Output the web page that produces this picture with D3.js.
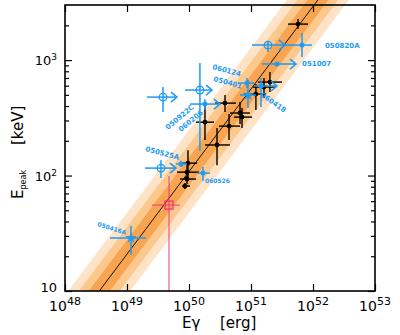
<!DOCTYPE html>
<html><head><meta charset="utf-8">
<script src="https://cdn.jsdelivr.net/npm/d3@7"></script>
<style>body{margin:0;background:#fff}svg{display:block}</style>
</head><body>
<svg id="c" width="400" height="335"></svg>
<script>
// ---------- data ----------
// black (pre-Swift) GRBs: [Egamma, Epeak, Elo, Ehi, Eplo, Ephi]
const blackPts = [
  [5.73e51, 2050, 3.95e51, 8.3e51, 1855, 2265],
  [2.02e51, 645, 1.30e51, 3.16e51, 528, 787],
  [1.62e51, 584, 1.08e51, 2.53e51, 469, 699],
  [1.20e51, 508, 7.7e50, 1.75e51, 369, 620],
  [3.81e50, 424, 2.63e50, 5.73e50, 355, 498],
  [1.81e50, 290, 1.30e50, 2.53e50, 203, 416],
  [4.42e50, 268, 3.05e50, 6.65e50, 203, 341],
  [6.65e50, 348, 4.58e50, 9.6e50, 279, 433],
  [7.16e50, 321, 5.32e50, 1.04e51, 258, 384],
  [2.83e50, 184, 1.81e50, 4.58e50, 123, 258],
  [9.63e49, 128, 7.16e49, 1.35e50, 95.1, 166],
  [9.29e49, 107, 6.4e49, 1.45e50, 91.4, 123],
  [9.29e49, 93.3, 7.16e49, 1.30e50, 84.4, 101],
  [8.61e49, 81.1, 7.7e49, 1.04e50, 76.4, 86.1]
];
// Swift GRBs (blue): [Egamma, Epeak, Elo, Ehi, Eplo, Ephi, marker, lowerLimitInE]
const bluePts = [
  [1.16e49, 28.8, 5.32e48, 2.03e49, 20.5, 36.5, "star", 0],
  [7.43e49, 126, 6.17e49, 9.29e49, 118.6, 134, "dot", 0],
  [3.53e49, 116, 1.95e49, 6.17e49, 95.1, 136, "open", 1],
  [1.68e50, 105, 1.35e50, 2.18e50, 89.6, 118.6, "dot", 0],
  [3.81e49, 478, 2.10e49, 6.4e49, 355, 584, "open", 1],
  [1.50e50, 550, 8.61e49, 2.35e50, 163, 942, "open", 1],
  [1.81e50, 416, 1.04e50, 3.16e50, 369, 459, "dot", 1],
  [8.62e50, 632, 6.17e50, 1.12e51, 573, 699, "dot", 0],
  [8.95e50, 498, 6.65e50, 1.20e51, 384, 671, "star", 0],
  [1.45e51, 596, 1.12e51, 2.63e51, 392, 699, "dot", 1],
  [2.63e51, 923, 1.50e51, 5.32e51, 887, 961, "dot", 1],
  [6.65e51, 1349, 3.53e51, 9.63e51, 1062, 1713, "dot", 0],
  [1.88e51, 1349, 1.04e51, 3.53e51, 1173, 1462, "open", 1]
];
// pink square: [Egamma, Epeak, Elo, Ehi, Eplo, Ephi]
const pinkPts = [[4.76e49, 55.5, 2.53e49, 7.16e49, 10, 99]];

// GRB name labels
const grbNames  = ["050820A", "051007", "060124", "050401", "060418", "050922C", "060206", "050525A", "060526", "050416A"];
const nameE     = [1.56e52, 6.65e51, 2.35e50, 2.44e50, 1.40e51, 4.58e49, 7.43e49, 1.95e49, 1.81e50, 3.28e48];
const nameEp    = [1270, 887, 836, 658, 488, 248, 238, 163, 86.1, 36.5];
const nameAngle = [0, 0, 15, 15, 35, -40, -40, 15, 0, 17];
const nameSize  = [7, 7, 7, 7, 7, 7, 7, 7, 6, 6];

// correlation: Epeak = 10 keV at E0, slope in log-log
const fitSlope = 0.715;
const fitE0 = Math.pow(10, 48.553);
const bandHalfWidthDex = [0.5, 0.33, 0.17];
const bandColors = ["#fee3c6", "#fcc88e", "#f8a450"];

// ticks
const xTickExp = [48, 49, 50, 51, 52, 53];
const yTickVals = [10, 100, 1000];
const yTickSup = ["", "2", "3"];
const yMinorVals = [20,30,40,50,60,70,80,90,200,300,400,500,600,700,800,900,2000];

// ---------- drawing ----------
const BLUE = "#1d9bf3", PINK = "#f0387c";
const L = 65, R = 375, T = 5, B = 291;
const svg = d3.select("#c");
const x = d3.scaleLog().domain([1e48, 1e53]).range([L, R]);
const y = d3.scaleLog().domain([10, 3000]).range([B, T]);

svg.append("defs").append("clipPath").attr("id", "clip")
  .append("rect").attr("x", L).attr("y", 0).attr("width", R - L).attr("height", B);

const plot = svg.append("g").attr("clip-path", "url(#clip)");
const fitE = ep => fitE0 * Math.pow(ep / 10, 1 / fitSlope);
const epRange = [5, 6000];
const line = d3.line().x(d => x(d[0])).y(d => y(d[1]));

bandHalfWidthDex.forEach((d, i) => {
  const f = Math.pow(10, d);
  const pts = [
    [fitE(epRange[0]) / f, epRange[0]], [fitE(epRange[1]) / f, epRange[1]],
    [fitE(epRange[1]) * f, epRange[1]], [fitE(epRange[0]) * f, epRange[0]]
  ];
  plot.append("path").attr("d", line(pts) + "Z").attr("fill", bandColors[i]);
});
plot.append("path").attr("d", line(epRange.map(e => [fitE(e), e])))
  .attr("stroke", "#000").attr("stroke-width", 0.9).attr("fill", "none");

function errbars(g, p, color, w) {
  g.append("line").attr("x1", x(p[2])).attr("x2", x(p[3])).attr("y1", y(p[1])).attr("y2", y(p[1]))
    .attr("stroke", color).attr("stroke-width", w);
  g.append("line").attr("x1", x(p[0])).attr("x2", x(p[0])).attr("y1", y(p[4])).attr("y2", y(p[5]))
    .attr("stroke", color).attr("stroke-width", w);
}

// black points
blackPts.forEach(p => {
  errbars(plot, p, "#000", 1.4);
  plot.append("circle").attr("cx", x(p[0])).attr("cy", y(p[1])).attr("r", 2.4).attr("fill", "#000");
});

// pink square
pinkPts.forEach(p => {
  errbars(plot, p, PINK, 1);
  plot.append("rect").attr("x", x(p[0]) - 4).attr("y", y(p[1]) - 4).attr("width", 8).attr("height", 8)
    .attr("fill", "none").attr("stroke", PINK).attr("stroke-width", 1.3);
});

// blue points
bluePts.forEach(p => {
  errbars(plot, p, BLUE, 1.5);
  const cx = x(p[0]), cy = y(p[1]);
  if (p[6] === "open") {
    plot.append("circle").attr("cx", cx).attr("cy", cy).attr("r", 3.8)
      .attr("fill", "none").attr("stroke", BLUE).attr("stroke-width", 1.3);
  } else if (p[6] === "star") {
    plot.append("path").attr("transform", `translate(${cx},${cy})`)
      .attr("d", d3.symbol().type(d3.symbolStar).size(40)()).attr("fill", BLUE);
  } else {
    plot.append("circle").attr("cx", cx).attr("cy", cy).attr("r", 2.5).attr("fill", BLUE);
  }
  if (p[7]) {
    const ax = x(p[3]);
    plot.append("path").attr("d", `M${ax - 6},${cy - 5}L${ax},${cy}L${ax - 6},${cy + 5}`)
      .attr("fill", "none").attr("stroke", BLUE).attr("stroke-width", 1.5);
  }
});

// name labels
grbNames.forEach((n, i) => {
  svg.append("text")
    .attr("transform", `translate(${x(nameE[i])},${y(nameEp[i])}) rotate(${nameAngle[i]})`)
    .attr("font-family", "DejaVu Sans, sans-serif").attr("font-weight", "bold")
    .attr("font-size", nameSize[i]).attr("fill", BLUE).text(n);
});

// axes (ticks inward)
const tickStyle = g => g.call(s => s.select(".domain").remove())
  .call(s => s.selectAll("line").attr("stroke", "#000").attr("stroke-width", 1.2));
const xMaj = xTickExp.map(e => Math.pow(10, e));
svg.append("g").attr("transform", `translate(0,${B})`)
  .call(d3.axisBottom(x).tickValues(xMaj).tickSize(-7).tickFormat("")).call(tickStyle);
svg.append("g").attr("transform", `translate(0,${T})`)
  .call(d3.axisTop(x).tickValues(xMaj).tickSize(-7).tickFormat("")).call(tickStyle);
svg.append("g").attr("transform", `translate(${L},0)`)
  .call(d3.axisLeft(y).tickValues(yTickVals).tickSize(-7).tickFormat("")).call(tickStyle);
svg.append("g").attr("transform", `translate(${L},0)`)
  .call(d3.axisLeft(y).tickValues(yMinorVals).tickSize(-4).tickFormat("")).call(tickStyle);
svg.append("g").attr("transform", `translate(${R},0)`)
  .call(d3.axisRight(y).tickValues(yTickVals).tickSize(-7).tickFormat("")).call(tickStyle);
svg.append("g").attr("transform", `translate(${R},0)`)
  .call(d3.axisRight(y).tickValues(yMinorVals).tickSize(-4).tickFormat("")).call(tickStyle);

// frame
svg.append("rect").attr("x", L).attr("y", T).attr("width", R - L).attr("height", B - T)
  .attr("fill", "none").attr("stroke", "#000").attr("stroke-width", 1.6);

// tick labels
const FONT = "DejaVu Sans, sans-serif";
xTickExp.forEach(e => {
  const t = svg.append("text").attr("x", x(Math.pow(10, e))).attr("y", 311)
    .attr("text-anchor", "middle").attr("font-family", FONT).attr("font-size", 14).attr("fill", "#000");
  t.append("tspan").text("10");
  t.append("tspan").attr("font-size", 11).attr("dy", -6).text(e);
});
yTickVals.forEach((v, i) => {
  const t = svg.append("text").attr("x", 57).attr("y", Math.min(y(v) + 5, 292))
    .attr("text-anchor", "end").attr("font-family", FONT).attr("font-size", 13).attr("fill", "#000");
  t.append("tspan").text("10");
  if (yTickSup[i]) t.append("tspan").attr("font-size", 9).attr("dy", -5).text(yTickSup[i]);
});

// axis titles
const xt = svg.append("text").attr("y", 328).attr("font-family", FONT).attr("font-size", 15).attr("fill", "#000");
xt.append("tspan").attr("x", 182).text("Eγ");
xt.append("tspan").attr("x", 220).text("[erg]");
const yt = svg.append("text").attr("transform", "translate(23,199) rotate(-90)")
  .attr("font-family", FONT).attr("font-size", 15).attr("fill", "#000");
yt.append("tspan").text("E");
yt.append("tspan").attr("font-size", 8).attr("dy", 3).text("peak");
yt.append("tspan").attr("x", 54).attr("dy", -3).text("[keV]");
</script>
</body></html>
